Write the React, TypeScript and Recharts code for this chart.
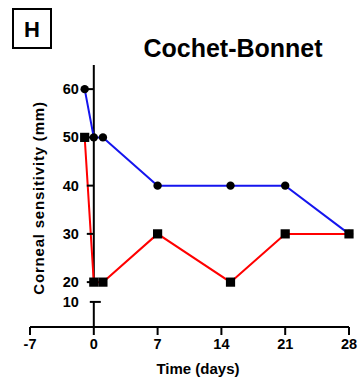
import { LineChart, Line, XAxis, YAxis, ReferenceLine } from "recharts";

const days = [-1, 0, 1, 7, 15, 21, 28];
const blueValues = [60, 50, 50, 40, 40, 40, 30];
const redValues = [50, 20, 20, 30, 20, 30, 30];
const xTicks = [-7, 0, 7, 14, 21, 28];
const upperTicks = [20, 30, 40, 50, 60];

// broken y axis: lower part (the "10" tick) is squeezed below the break
const LOW_TICK_POS = 15.9;
const Y_MIN = 10.7;
const Y_MAX = 65;

const W = 359;
const H = 384;
const Y_AXIS_W = 20;
const MARGIN = { top: 65, right: 10, bottom: 0, left: 10 };
const PLOT_LEFT = MARGIN.left + Y_AXIS_W;
const ZERO_X = PLOT_LEFT + ((0 - -7) / 35) * (W - PLOT_LEFT - MARGIN.right);
const FONT = "Arial, 'Liberation Sans', sans-serif";
const TICK_FONT = 14.5;

const data = days.map((d, i) => ({ day: d, blue: blueValues[i], red: redValues[i] }));

function YTick(props: any) {
  const { y, payload } = props;
  const isLow = payload.value === LOW_TICK_POS;
  return (
    <g>
      <line
        x1={isLow ? ZERO_X - 4 : ZERO_X - 7}
        x2={isLow ? ZERO_X + 7 : ZERO_X}
        y1={y}
        y2={y}
        stroke="#000"
        strokeWidth={2}
      />
      <text
        x={ZERO_X - 15}
        y={y}
        textAnchor="end"
        dominantBaseline="central"
        fontSize={TICK_FONT}
        fontWeight="bold"
        fontFamily={FONT}
        fill="#000"
      >
        {isLow ? "10" : payload.value}
      </text>
    </g>
  );
}

function CircleDot(props: any) {
  const { cx, cy } = props;
  if (cx == null || cy == null) return null;
  return <circle cx={cx} cy={cy} r={4.2} fill="#000" />;
}

function SquareDot(props: any) {
  const { cx, cy } = props;
  if (cx == null || cy == null) return null;
  return <rect x={cx - 4.6} y={cy - 4.6} width={9.2} height={9.2} fill="#000" />;
}

export default function App() {
  return (
    <div style={{ position: "absolute", left: 0, top: 0, width: W, height: H, background: "#fff" }}>
      <LineChart width={W} height={H} data={data} margin={MARGIN}>
        <XAxis
          dataKey="day"
          type="number"
          domain={[-7, 28]}
          ticks={xTicks}
          height={57}
          tickSize={8}
          tickMargin={4}
          axisLine={{ stroke: "#000", strokeWidth: 2 }}
          tickLine={{ stroke: "#000", strokeWidth: 2 }}
          tick={{ fill: "#000", fontSize: TICK_FONT, fontWeight: "bold", fontFamily: FONT }}
        />
        <YAxis
          type="number"
          domain={[Y_MIN, Y_MAX]}
          ticks={[LOW_TICK_POS, ...upperTicks]}
          interval={0}
          width={Y_AXIS_W}
          axisLine={false}
          tickLine={false}
          tick={<YTick />}
        />
        <ReferenceLine
          segment={[{ x: 0, y: 19.4 }, { x: 0, y: Y_MAX }]}
          stroke="#000"
          strokeWidth={2}
        />
        <ReferenceLine
          segment={[{ x: 0, y: Y_MIN }, { x: 0, y: LOW_TICK_POS }]}
          stroke="#000"
          strokeWidth={2}
        />
        <Line
          dataKey="blue"
          stroke="#1515ee"
          strokeWidth={2}
          dot={<CircleDot />}
          isAnimationActive={false}
        />
        <Line
          dataKey="red"
          stroke="#ff0000"
          strokeWidth={2}
          dot={<SquareDot />}
          isAnimationActive={false}
        />
      </LineChart>
      <svg
        width={W}
        height={H}
        style={{ position: "absolute", left: 0, top: 0, pointerEvents: "none" }}
        fontFamily={FONT}
        fontWeight="bold"
      >
        <rect x={13} y={9} width={38} height={39} fill="none" stroke="#000" strokeWidth={2} />
        <text x={32} y={37} textAnchor="middle" fontSize={22}>H</text>
        <text x={233} y={57} textAnchor="middle" fontSize={25}>Cochet-Bonnet</text>
        <text x={198} y={374} textAnchor="middle" fontSize={15}>Time (days)</text>
        <text
          x={44}
          y={198}
          textAnchor="middle"
          fontSize={15}
          letterSpacing={0.8}
          transform="rotate(-90 44 198)"
        >
          Corneal sensitivity (mm)
        </text>
      </svg>
    </div>
  );
}
